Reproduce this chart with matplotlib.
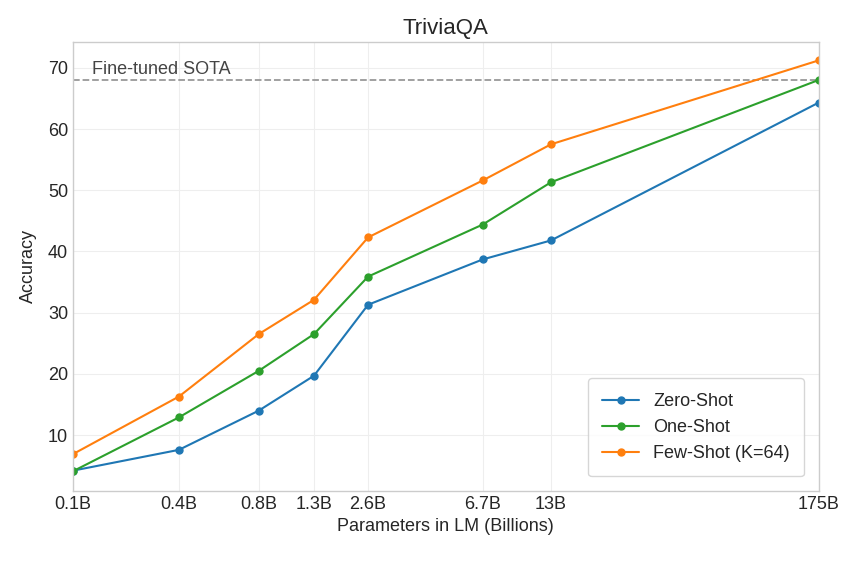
import matplotlib.pyplot as plt
import numpy as np

params = [0.125, 0.35, 0.76, 1.3, 2.2, 6.7, 13, 175]  # model sizes in billions
tick_labels = ['0.1B', '0.4B', '0.8B', '1.3B', '2.6B', '6.7B', '13B', '175B']
zero_shot = [4.2, 7.6, 14.0, 19.7, 31.3, 38.7, 41.8, 64.3]
one_shot = [4.1, 12.9, 20.5, 26.5, 35.9, 44.4, 51.3, 68.0]
few_shot = [6.9, 16.3, 26.5, 32.1, 42.3, 51.6, 57.5, 71.2]
sota = 68.0


def plot_triviaqa():
    """Plots TriviaQA accuracy against model size for zero-, one- and few-shot settings."""
    plt.style.use('seaborn-v0_8-whitegrid')
    plt.figure(figsize=(8.68, 5.61), dpi=100)
    plt.axhline(sota, color='#999999', linestyle='--', linewidth=1.3)
    plt.text(0.15, sota + 0.4, 'Fine-tuned SOTA', fontsize=13, color='#444444', va='bottom')
    plt.plot(params, zero_shot, marker='o', markersize=5, color='#1f77b4', label='Zero-Shot')
    plt.plot(params, one_shot, marker='o', markersize=5, color='#2ca02c', label='One-Shot')
    plt.plot(params, few_shot, marker='o', markersize=5, color='#ff7f0e', label='Few-Shot (K=64)')
    plt.xscale('log')
    plt.xticks(params, tick_labels, fontsize=13)
    plt.minorticks_off()
    plt.yticks([10, 20, 30, 40, 50, 60, 70], fontsize=13)
    plt.xlim(0.125, 175)
    plt.ylim(0.9, 74.2)
    plt.xlabel('Parameters in LM (Billions)', fontsize=13)
    plt.ylabel('Accuracy', fontsize=13, labelpad=8)
    plt.title('TriviaQA', fontsize=16)
    plt.legend(loc='lower right', frameon=True, fontsize=13, borderpad=0.8, borderaxespad=0.8)
    ax = plt.gca()
    for spine in ax.spines.values():
        spine.set_visible(True)
        spine.set_color('#cccccc')
    ax.grid(True, color='#eeeeee')
    plt.tight_layout()
    plt.subplots_adjust(left=0.084, right=0.943, top=0.925, bottom=0.125)
    plt.savefig('out.png')


if __name__ == '__main__':
    plot_triviaqa()
